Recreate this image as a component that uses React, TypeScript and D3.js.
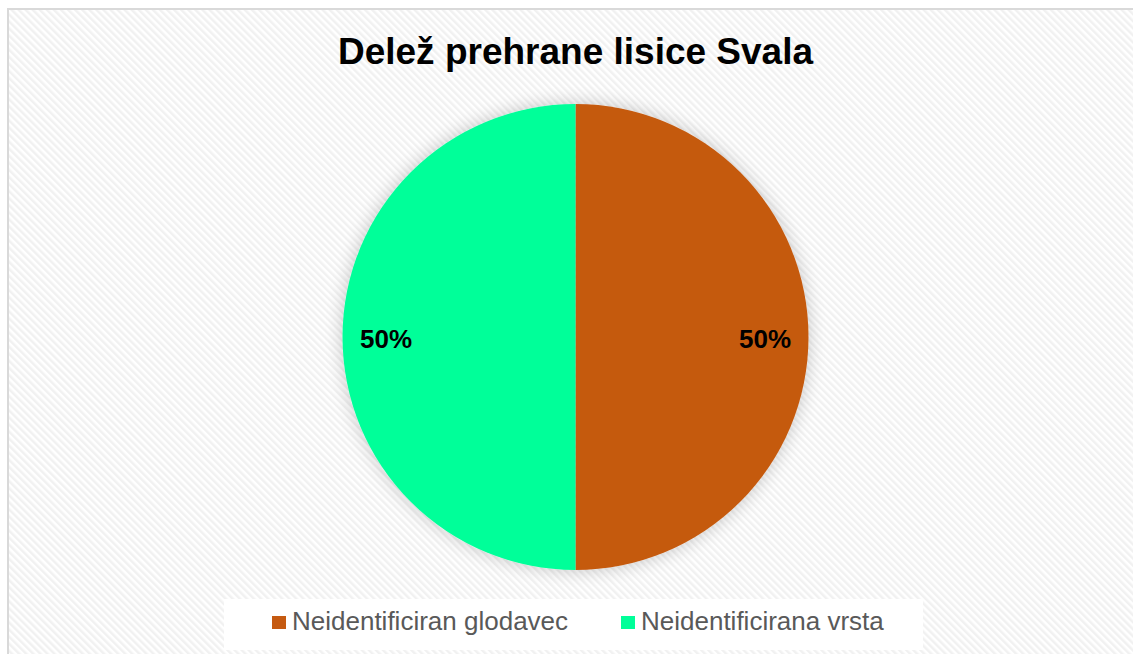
import React from "react";
import * as d3 from "d3";

const title = "Delež prehrane lisice Svala";
const categories = ["Neidentificiran glodavec", "Neidentificirana vrsta"];
const values = [1, 1];
const colors = ["#C55A11", "#00FF99"];

export default function App() {
  const W = 1133, H = 654;
  const cx = 575.5, cy = 337, r = 233;
  const total = d3.sum(values);
  const pie = d3.pie<number>().sort(null).value((d) => d);
  const arcs = pie(values);
  const arc = d3.arc<d3.PieArcDatum<number>>().innerRadius(0).outerRadius(r);
  const labelArc = d3.arc<d3.PieArcDatum<number>>().innerRadius(189.5).outerRadius(189.5);
  const fmt = d3.format(".0%");

  const legendX = [272, 621];

  return (
    <svg width={W} height={H} style={{ position: "absolute", left: 0, top: 0, fontFamily: "Liberation Sans, Arial, sans-serif" }}>
      <defs>
        <pattern id="stripes" width="5" height="5" patternUnits="userSpaceOnUse" patternTransform="rotate(-45)">
          <rect width="5" height="5" fill="#ffffff" />
          <rect width="2.5" height="5" fill="#f1f1f1" />
        </pattern>
        <filter id="glow" x="-20%" y="-20%" width="140%" height="140%">
          <feGaussianBlur in="SourceAlpha" stdDeviation="9" />
          <feComponentTransfer>
            <feFuncA type="linear" slope="0.22" />
          </feComponentTransfer>
          <feMerge>
            <feMergeNode />
            <feMergeNode in="SourceGraphic" />
          </feMerge>
        </filter>
      </defs>
      <rect x={0} y={0} width={W} height={H} fill="#ffffff" />
      <rect x={8} y={9} width={W + 10} height={H + 10} fill="url(#stripes)" stroke="#d9d9d9" strokeWidth={2} />
      <text x={575.5} y={64} textAnchor="middle" fontSize={37} fontWeight="bold" fill="#000">
        {title}
      </text>
      <g transform={`translate(${cx},${cy})`} filter="url(#glow)">
        {arcs.map((a, i) => (
          <path key={i} d={arc(a) as string} fill={colors[i]} />
        ))}
      </g>
      <g transform={`translate(${cx},${cy})`}>
        {arcs.map((a, i) => {
          const [lx, ly] = labelArc.centroid(a);
          return (
            <text key={i} x={lx} y={ly + 11} textAnchor="middle" fontSize={26} fontWeight="bold" fill="#000">
              {fmt(values[i] / total)}
            </text>
          );
        })}
      </g>
      <rect x={224} y={599} width={699} height={51} fill="#ffffff" />
      {categories.map((c, i) => (
        <g key={c}>
          <rect x={legendX[i]} y={616} width={14} height={13} fill={colors[i]} />
          <text x={legendX[i] + 20} y={630} fontSize={26} fill="#595959">
            {c}
          </text>
        </g>
      ))}
    </svg>
  );
}
